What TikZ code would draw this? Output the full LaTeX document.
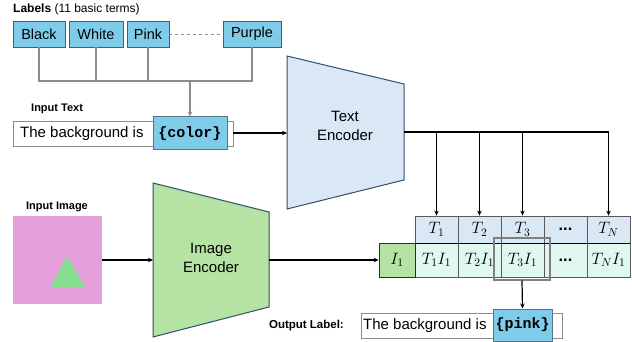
\documentclass[tikz,border=0pt]{standalone}
\usepackage{fix-cm}
\usepackage{fontspec}
\setmainfont{Liberation Sans}
\setmonofont{Liberation Mono}
\usetikzlibrary{arrows.meta}

\definecolor{lblblue}{HTML}{7FCCEA}
\definecolor{lbledge}{HTML}{3A6478}
\definecolor{tencfill}{HTML}{DAE8F6}
\definecolor{iencfill}{HTML}{B5E3A3}
\definecolor{encedge}{HTML}{2F4F6A}
\definecolor{imgpink}{HTML}{E3A0DA}
\definecolor{trigreen}{HTML}{86E08F}
\definecolor{mint}{HTML}{E0F8F0}
\definecolor{linegray}{HTML}{8C8C8C}

\tikzset{
  lblbox/.style={draw=lbledge, fill=lblblue, line width=0.9pt, minimum height=26pt, inner sep=0pt, font=\fontsize{14.5}{16}\selectfont},
  txtbox/.style={draw=linegray, line width=0.8pt, minimum height=25pt, inner sep=0pt},
  hlbox/.style={draw=encedge!80, fill=lblblue, line width=1pt, inner sep=0pt, font=\fontsize{15}{17}\selectfont\ttfamily\bfseries},
  plain/.style={inner sep=0pt, font=\fontsize{15}{17}\selectfont},
  title/.style={inner sep=0pt, font=\fontsize{11}{13}\selectfont\bfseries},
  enctxt/.style={align=center, inner sep=0pt, font=\fontsize{15}{19}\selectfont},
  tcell/.style={draw=gray!70!black, fill=tencfill, line width=0.8pt, minimum width=43pt, minimum height=27pt, inner sep=0pt, font=\fontsize{16.5}{18}\selectfont},
  icell/.style={draw=gray!70!black, fill=mint, line width=0.8pt, minimum width=43pt, minimum height=34pt, inner sep=0pt, font=\fontsize{16.5}{18}\selectfont},
  arr/.style={-{Stealth[length=5pt,width=4.5pt]}, line width=1.2pt},
  gline/.style={draw=linegray, line width=1.5pt}
}

\begin{document}
\begin{tikzpicture}[x=1pt,y=-1pt]
  \useasboundingbox (0,0) rectangle (632,342);

  % labels
  \node[anchor=west, inner sep=0pt, font=\fontsize{12}{14}\selectfont] (lbltitle) at (13,9) {\textbf{Labels} (11 basic terms)};
  \node[lblbox, minimum width=52pt] (black) at (39,34) {Black};
  \node[lblbox, minimum width=54pt] (white) at (96,34) {White};
  \node[lblbox, minimum width=42pt] (pink) at (148,34) {Pink};
  \node[lblbox, minimum width=58pt] (purple) at (252,34) {Purple};
  \draw[linegray, dashed, line width=0.9pt] (pink) -- (purple);

  \coordinate (join) at (190,81);
  \draw[gline] (black.south) |- (purple.south |- join) -- (purple.south);
  \draw[gline] (white.south) -- (white.south |- join);
  \draw[gline] (pink.south) -- (pink.south |- join);

  % input text
  \node[title, anchor=west] (intitle) at (31,109) {Input Text};
  \node[txtbox, minimum width=220pt] (intext) at (123,133.5) {};
  \node[plain, anchor=west] (inwords) at (20,133.5) {The background is};
  \node[hlbox, minimum width=74pt, minimum height=33pt] (color) at (190,133.5) {\{color\}};
  \draw[gline, -{Stealth[length=5pt,width=4.5pt]}, line width=1.2pt] (join) -- (color.north);

  % text encoder
  \filldraw[fill=tencfill, draw=encedge, line width=1pt] (287,56) -- (404,84) -- (404,180) -- (287,209) -- cycle;
  \node[enctxt] (tenc) at (345,126) {Text\\Encoder};
  \coordinate (tencin) at (287,133);
  \coordinate (tencout) at (404,132);
  \draw[arr] (intext.east |- tencin) -- (tencin);

  % input image
  \node[title] (imgtitle) at (57,207) {Input Image};
  \fill[imgpink] (13,216) rectangle (102,304);
  \fill[trigreen] (67,256) -- (85,287) -- (51,287) -- cycle;
  \coordinate (imgout) at (102,260);

  % image encoder
  \filldraw[fill=iencfill, draw=encedge, line width=1pt] (153,183) -- (269,212) -- (269,307) -- (153,337) -- cycle;
  \node[enctxt] (ienc) at (211,258) {Image\\Encoder};
  \coordinate (iencin) at (153,260);
  \coordinate (iencout) at (269,260);
  \draw[arr] (imgout) -- (iencin);

  % similarity table
  \foreach \i/\lbl in {1/$T_1$, 2/$T_2$, 3/$T_3$, 4/\textbf{...}, 5/$T_N$}
    \node[tcell] (t\i) at ({436.5+43*(\i-1)},229.5) {\lbl};
  \foreach \i/\lbl in {1/$T_1I_1$, 2/$T_2I_1$, 3/$T_3I_1$, 4/\textbf{...}, 5/$T_NI_1$}
    \node[icell] (p\i) at ({436.5+43*(\i-1)},260) {\lbl};
  \node[icell, fill=iencfill, draw=black!70!green, minimum width=36pt] (i1) at (397,260) {$I_1$};
  \draw[line width=1.3pt] (t1.south west) -- (t5.south east);

  \draw[arr] (iencout) -- (i1.west);
  \draw[arr] (tencout) -| (t5.north);
  \foreach \i in {1,2,3}
    \draw[arr] (t\i.north |- tencout) -- (t\i.north);

  \node[draw=gray, line width=1.2pt, minimum width=56pt, minimum height=42pt, inner sep=0pt] (sel) at (522,259) {};

  % output
  \node[title, anchor=east, font=\fontsize{11.5}{13}\selectfont\bfseries] (outtitle) at (344,326) {Output Label:};
  \node[txtbox, minimum width=201pt] (outtext) at (461.5,325.5) {};
  \node[plain, anchor=west] (outwords) at (363,325.5) {The background is};
  \node[hlbox, minimum width=59pt, minimum height=32pt] (pinkout) at (522.5,325) {\{pink\}};
  \draw[arr] (sel.south) -- (pinkout.north);
\end{tikzpicture}
\end{document}
